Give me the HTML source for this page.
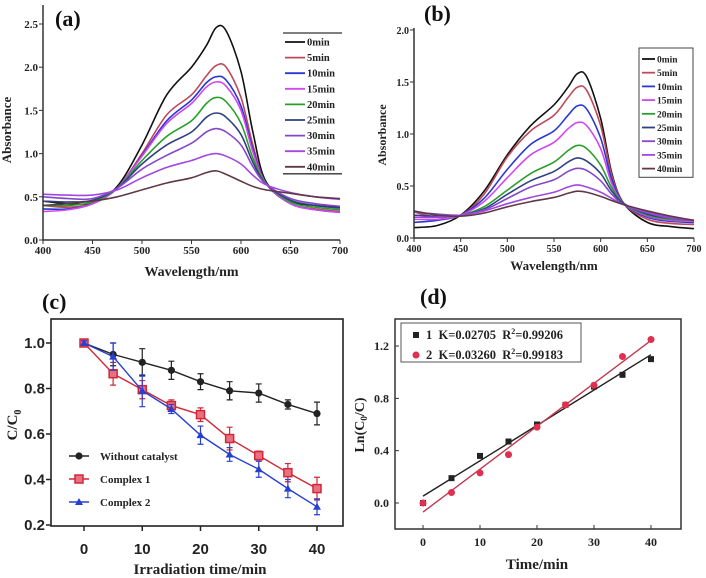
<!DOCTYPE html>
<html><head><meta charset="utf-8"><style>
html,body{margin:0;padding:0;background:#fff;width:706px;height:578px;overflow:hidden}
svg{display:block}
.serif{font-family:"Liberation Serif",serif;font-weight:bold}
.sans{font-family:"Liberation Sans",sans-serif;font-weight:bold}
</style></head><body>
<svg id="fig" width="706" height="578" viewBox="0 0 706 578" xmlns="http://www.w3.org/2000/svg"></svg>
<script>
// ---- data ----
const wavelengths = [400,425,450,475,500,525,550,565,575,585,600,612,625,650,675,700];
const timeLabels = ["0min","5min","10min","15min","20min","25min","30min","35min","40min"];
const specA0 = [0.45,0.42,0.43,0.62,1.10,1.68,2.00,2.25,2.46,2.42,1.95,1.25,0.68,0.45,0.40,0.38];
const specA5 = [0.40,0.38,0.42,0.60,1.00,1.45,1.68,1.90,2.02,2.00,1.65,1.10,0.66,0.42,0.36,0.33];
const specA10 = [0.36,0.36,0.42,0.60,0.98,1.38,1.62,1.82,1.89,1.85,1.55,1.05,0.66,0.42,0.35,0.32];
const specA15 = [0.33,0.35,0.42,0.60,0.97,1.35,1.58,1.77,1.83,1.78,1.50,1.02,0.66,0.42,0.35,0.32];
const specA20 = [0.40,0.40,0.44,0.60,0.92,1.20,1.38,1.58,1.65,1.60,1.35,0.95,0.66,0.44,0.38,0.35];
const specA25 = [0.45,0.44,0.46,0.60,0.88,1.10,1.25,1.42,1.47,1.42,1.22,0.90,0.65,0.46,0.40,0.37];
const specA30 = [0.50,0.48,0.48,0.60,0.82,0.98,1.12,1.25,1.29,1.25,1.10,0.85,0.65,0.48,0.42,0.39];
const specA35 = [0.53,0.52,0.52,0.58,0.72,0.84,0.92,0.98,1.00,0.97,0.88,0.75,0.64,0.55,0.50,0.47];
const specA40 = [0.40,0.42,0.45,0.50,0.58,0.66,0.72,0.78,0.80,0.76,0.68,0.62,0.58,0.54,0.50,0.48];
const specB0 = [0.10,0.12,0.22,0.45,0.80,1.08,1.28,1.45,1.58,1.55,1.15,0.62,0.33,0.15,0.11,0.09];
const specB5 = [0.25,0.20,0.22,0.42,0.78,1.03,1.18,1.35,1.45,1.42,1.08,0.60,0.33,0.18,0.14,0.13];
const specB10 = [0.15,0.17,0.22,0.38,0.66,0.90,1.03,1.18,1.27,1.24,0.96,0.56,0.33,0.20,0.16,0.15];
const specB15 = [0.18,0.18,0.22,0.35,0.58,0.80,0.92,1.05,1.11,1.08,0.86,0.52,0.33,0.21,0.17,0.16];
const specB20 = [0.20,0.20,0.22,0.30,0.46,0.62,0.73,0.84,0.89,0.86,0.70,0.48,0.33,0.22,0.18,0.17];
const specB25 = [0.22,0.21,0.22,0.28,0.42,0.55,0.64,0.73,0.77,0.74,0.62,0.45,0.33,0.23,0.19,0.17];
const specB30 = [0.25,0.23,0.22,0.27,0.38,0.49,0.56,0.64,0.67,0.65,0.55,0.42,0.32,0.24,0.19,0.17];
const specB35 = [0.20,0.20,0.22,0.26,0.33,0.39,0.44,0.49,0.51,0.49,0.44,0.38,0.32,0.25,0.20,0.17];
const specB40 = [0.26,0.22,0.21,0.24,0.30,0.35,0.39,0.43,0.45,0.44,0.40,0.36,0.32,0.26,0.21,0.17];
const times = [0,5,10,15,20,25,30,35,40];
const noCat = [1.0,0.95,0.915,0.88,0.83,0.79,0.78,0.73,0.69];
const noCatErr = [0.01,0.05,0.06,0.04,0.035,0.04,0.04,0.02,0.05];
const cx1 = [1.0,0.865,0.795,0.725,0.685,0.58,0.505,0.43,0.36];
const cx1Err = [0.01,0.05,0.04,0.025,0.03,0.05,0.02,0.04,0.05];
const cx2 = [1.0,0.94,0.79,0.71,0.595,0.51,0.445,0.36,0.28];
const cx2Err = [0.01,0.06,0.07,0.02,0.04,0.03,0.035,0.04,0.035];
const lnC1 = [0.0,0.19,0.36,0.47,0.60,0.75,0.89,0.98,1.10];
const lnC2 = [0.0,0.08,0.23,0.37,0.58,0.75,0.90,1.12,1.25];
const wlTicks = [400,450,500,550,600,650,700];
const absTicksA = ["0.0","0.5","1.0","1.5","2.0","2.5"];
const absTicksB = ["0.0","0.5","1.0","1.5","2.0"];
const ccTicks = ["0.2","0.4","0.6","0.8","1.0"];
const lnTicks = ["0.0","0.4","0.8","1.2"];
const tTicks = [0,10,20,30,40];

const specColors = ["#111","#c04858","#2838d0","#d048f0","#28a028","#304080","#8448c8","#a048e0","#603848"];
const NS="http://www.w3.org/2000/svg";
const svg=document.getElementById('fig');
function mk(tag,attrs,parent){const e=document.createElementNS(NS,tag);for(const k in attrs)e.setAttribute(k,attrs[k]);(parent||svg).appendChild(e);return e;}
function txt(s,attrs,parent){const e=mk('text',attrs,parent);e.textContent=s;return e;}
function smoothPath(pts){let d='M'+pts[0][0]+','+pts[0][1];for(let i=0;i<pts.length-1;i++){const p0=pts[Math.max(0,i-1)],p1=pts[i],p2=pts[i+1],p3=pts[Math.min(pts.length-1,i+2)];const c1=[p1[0]+(p2[0]-p0[0])/6,p1[1]+(p2[1]-p0[1])/6],c2=[p2[0]-(p3[0]-p1[0])/6,p2[1]-(p3[1]-p1[1])/6];d+=' C'+c1+' '+c2+' '+p2;}return d;}

// ---- spectrum panel ----
function spectrum(opt){
  const g=mk('g',{});
  
  
  const X=v=>opt.x0+(v-400)/300*(opt.x1-opt.x0);
  const Y=v=>opt.y0-v*opt.ppu;
  opt.series.forEach((s,i)=>{
    const p=mk('path',{d:smoothPath(wavelengths.map((w,j)=>[X(w),Y(s[j])])),fill:'none',stroke:specColors[i],'stroke-width':1.6},g);
    
    
  });
  const ax=mk('path',{d:`M${opt.x0},${opt.top}V${opt.y0}H${opt.x1}`,fill:'none',stroke:'#333','stroke-width':1.5},g);
  
  
  wlTicks.forEach(w=>{mk('line',{x1:X(w),x2:X(w),y1:opt.y0,y2:opt.y0+4,stroke:'#333'},g);
    const t=txt(String(w),{x:X(w),y:opt.y0+14,'text-anchor':'middle','font-size':opt.fs,class:'serif',fill:'#222'},g);
    
    });
  opt.yt.forEach((l,i)=>{const v=parseFloat(l);mk('line',{x1:opt.x0-4,x2:opt.x0,y1:Y(v),y2:Y(v),stroke:'#333'},g);
    const t=txt(l,{x:opt.x0-5,y:Y(v)+4,'text-anchor':'end','font-size':opt.fs,class:'serif',fill:'#222'},g);
    
    });
  const xt=txt('Wavelength/nm',{x:(opt.x0+opt.x1)/2,y:opt.xty,'text-anchor':'middle','font-size':opt.tfs,class:'serif',fill:'#222'},g);
  
  
  const yt=txt('Absorbance',{x:0,y:0,transform:`translate(${opt.ytx},${opt.yty}) rotate(-90)`,'text-anchor':'middle','font-size':opt.tfs-1,class:'serif',fill:'#222'},g);
  
  
  const pl=txt(opt.label,{x:opt.lx,y:opt.ly,'font-size':22,class:'serif',fill:'#111'},g);
  
  
  const lg=mk('g',{},g);
  
  
  if(opt.box) mk('rect',{x:opt.lgx-3,y:opt.lgy-11,width:opt.lgw,height:opt.lgs*9+6,fill:'#fff',stroke:'#444'},lg);
  else {mk('line',{x1:opt.lgx-2,x2:opt.lgx+opt.lgw,y1:opt.lgy-9,y2:opt.lgy-9,stroke:'#333','stroke-width':1.3},lg);
        mk('line',{x1:opt.lgx-2,x2:opt.lgx+opt.lgw,y1:opt.lgy+opt.lgs*8+7,y2:opt.lgy+opt.lgs*8+7,stroke:'#333','stroke-width':1.3},lg);}
  timeLabels.forEach((l,i)=>{const y=opt.lgy+i*opt.lgs;
    mk('line',{x1:opt.lgx,x2:opt.lgx+opt.lgl,y1:y,y2:y,stroke:specColors[i],'stroke-width':1.8},lg);
    const t=txt(l,{x:opt.lgx+opt.lgl+2,y:y+3.5,'font-size':opt.lfs,class:'serif',fill:'#222'},lg);
    
    });
}
spectrum({name:'panel-a',series:[specA0,specA5,specA10,specA15,specA20,specA25,specA30,specA35,specA40],x0:43,x1:340,y0:240,ppu:86.4,top:5,yt:absTicksA,fs:11,tfs:14,xty:276,ytx:11,yty:130,label:'(a)',lx:55,ly:26,lgx:285,lgy:42,lgs:15.6,lgw:57,lgl:20,lfs:10.5,box:false});
spectrum({name:'panel-b',series:[specB0,specB5,specB10,specB15,specB20,specB25,specB30,specB35,specB40],x0:414,x1:694,y0:238,ppu:104,top:28,yt:absTicksB,fs:10,tfs:13,xty:270,ytx:386,yty:135,label:'(b)',lx:424,ly:21,lgx:642,lgy:59,lgs:13.7,lgw:54,lgl:13,lfs:9.5,box:true});

// ---- panel c ----
(function(){
  const g=mk('g',{});
  
  
  const X=t=>84+t/40*(317-84);
  const Y=v=>525-(v-0.2)/0.8*(525-343);
  const fr=mk('rect',{x:51,y:319,width:292,height:207,fill:'none',stroke:'#222','stroke-width':1.6},g);
  
  
  tTicks.forEach(t=>{mk('line',{x1:X(t),x2:X(t),y1:526,y2:531,stroke:'#222','stroke-width':1.5},g);
    const e=txt(String(t),{x:X(t),y:554,'text-anchor':'middle','font-size':15,class:'sans',fill:'#222'},g);
    
    });
  ccTicks.forEach(l=>{const v=parseFloat(l);mk('line',{x1:46,x2:51,y1:Y(v),y2:Y(v),stroke:'#222','stroke-width':1.5},g);
    const e=txt(l,{x:45,y:Y(v)+5,'text-anchor':'end','font-size':15,class:'sans',fill:'#222'},g);
    
    });
  const xt=txt('Irradiation time/min',{x:200,y:574,'text-anchor':'middle','font-size':15,class:'serif',fill:'#222'},g);
  
  
  const yt=mk('text',{transform:'translate(17,425) rotate(-90)','text-anchor':'middle','font-size':15,class:'serif',fill:'#222'},g);
  yt.innerHTML='C/C<tspan font-size="10" dy="4">0</tspan>';
  
  
  const pl=txt('(c)',{x:42,y:309,'font-size':22,class:'serif',fill:'#111'},g);
  
  
  const ser=[[noCat,noCatErr,'#222','circle','without-catalyst'],[cx1,cx1Err,'#d02838','square','complex-1'],[cx2,cx2Err,'#2840d0','triangle','complex-2']];
  function marker(x,y,type,col,par){
    if(type==='circle')return mk('circle',{cx:x,cy:y,r:3.6,fill:col},par);
    if(type==='square')return mk('rect',{x:x-4,y:y-4,width:8,height:8,fill:'#e87080',stroke:col,'stroke-width':1.5},par);
    return mk('path',{d:`M${x},${y-4}L${x+4},${y+3}L${x-4},${y+3}Z`,fill:col},par);
  }
  ser.forEach(([vals,err,col,type,nm])=>{
    const sg=mk('g',{},g);
    
    
    mk('polyline',{points:times.map((t,i)=>X(t)+','+Y(vals[i])).join(' '),fill:'none',stroke:col,'stroke-width':1.4},sg);
    times.forEach((t,i)=>{const x=X(t);
      mk('path',{d:`M${x},${Y(vals[i]-err[i])}V${Y(vals[i]+err[i])}M${x-3},${Y(vals[i]-err[i])}h6M${x-3},${Y(vals[i]+err[i])}h6`,stroke:col,'stroke-width':1.2,fill:'none'},sg);
      const m=marker(x,Y(vals[i]),type,col,sg);
      
      });
  });
  const lg=mk('g',{},g);
  
  
  [['Without catalyst',0],['Complex 1',1],['Complex 2',2]].forEach(([l,i])=>{const y=456+i*23;const s=ser[i];
    mk('line',{x1:69,x2:89,y1:y,y2:y,stroke:s[2],'stroke-width':1.4},lg);
    marker(79,y,s[3],s[2],lg);
    const e=txt(l,{x:100,y:y+4,'font-size':11,class:'serif',fill:'#222'},lg);
    
    });
})();

// ---- panel d ----
(function(){
  const g=mk('g',{});
  
  
  const X=t=>423+t/40*(651-423);
  const Y=v=>503-v*130.8;
  const fr=mk('rect',{x:395,y:319,width:286,height:210,fill:'none',stroke:'#333','stroke-width':1.5},g);
  
  
  tTicks.forEach(t=>{mk('line',{x1:X(t),x2:X(t),y1:529,y2:525,stroke:'#333'},g);
    const e=txt(String(t),{x:X(t),y:546,'text-anchor':'middle','font-size':12,class:'serif',fill:'#222'},g);
    
    });
  lnTicks.forEach(l=>{const v=parseFloat(l);mk('line',{x1:395,x2:399,y1:Y(v),y2:Y(v),stroke:'#333'},g);
    const e=txt(l,{x:389,y:Y(v)+4,'text-anchor':'end','font-size':12,class:'serif',fill:'#222'},g);
    
    });
  const xt=txt('Time/min',{x:537,y:569,'text-anchor':'middle','font-size':15,class:'serif',fill:'#222'},g);
  
  
  const yt=mk('text',{transform:'translate(364,425) rotate(-90)','text-anchor':'middle','font-size':14,class:'serif',fill:'#222'},g);
  yt.innerHTML='Ln(C<tspan font-size="9" dy="3">0</tspan><tspan dy="-3">/C)</tspan>';
  
  
  const pl=txt('(d)',{x:420,y:304,'font-size':22,class:'serif',fill:'#111'},g);
  
  
  function fit(v){const n=times.length,mx=times.reduce((a,b)=>a+b)/n,my=v.reduce((a,b)=>a+b)/n;let sxy=0,sxx=0;times.forEach((t,i)=>{sxy+=(t-mx)*(v[i]-my);sxx+=(t-mx)*(t-mx);});const k=sxy/sxx;return [my-k*mx,k];}
  [[lnC1,'#222','#222','series-1'],[lnC2,'#c03850','#e03050','series-2']].forEach(([v,lc,mc,nm],si)=>{
    const sg=mk('g',{},g);
    
    
    const [b,k]=fit(v);
    const ln=mk('line',{x1:X(0),y1:Y(b),x2:X(40),y2:Y(b+k*40),stroke:lc,'stroke-width':1.4},sg);
    
    
    times.forEach((t,i)=>{const m=si===0?mk('rect',{x:X(t)-3,y:Y(v[i])-3,width:6,height:6,fill:mc},sg):mk('circle',{cx:X(t),cy:Y(v[i]),r:3.5,fill:mc},sg);
      
      });
  });
  const lg=mk('g',{},g);
  
  
  mk('rect',{x:401,y:323,width:180,height:39,fill:'#fff',stroke:'#555'},lg);
  mk('rect',{x:413,y:332,width:6,height:6,fill:'#222'},lg);
  mk('circle',{cx:416,cy:355,r:3.5,fill:'#e03050'},lg);
  const l1=mk('text',{x:426,y:339,'font-size':12.5,class:'serif',fill:'#222'},lg);
  l1.innerHTML='1&#160;&#160;K=0.02705&#160;&#160;R<tspan font-size="8" dy="-5">2</tspan><tspan dy="5">=0.99206</tspan>';
  
  
  const l2=mk('text',{x:426,y:359,'font-size':12.5,class:'serif',fill:'#222'},lg);
  l2.innerHTML='2&#160;&#160;K=0.03260&#160;&#160;R<tspan font-size="8" dy="-5">2</tspan><tspan dy="5">=0.99183</tspan>';
  
  
})();
</script>
</body></html>
